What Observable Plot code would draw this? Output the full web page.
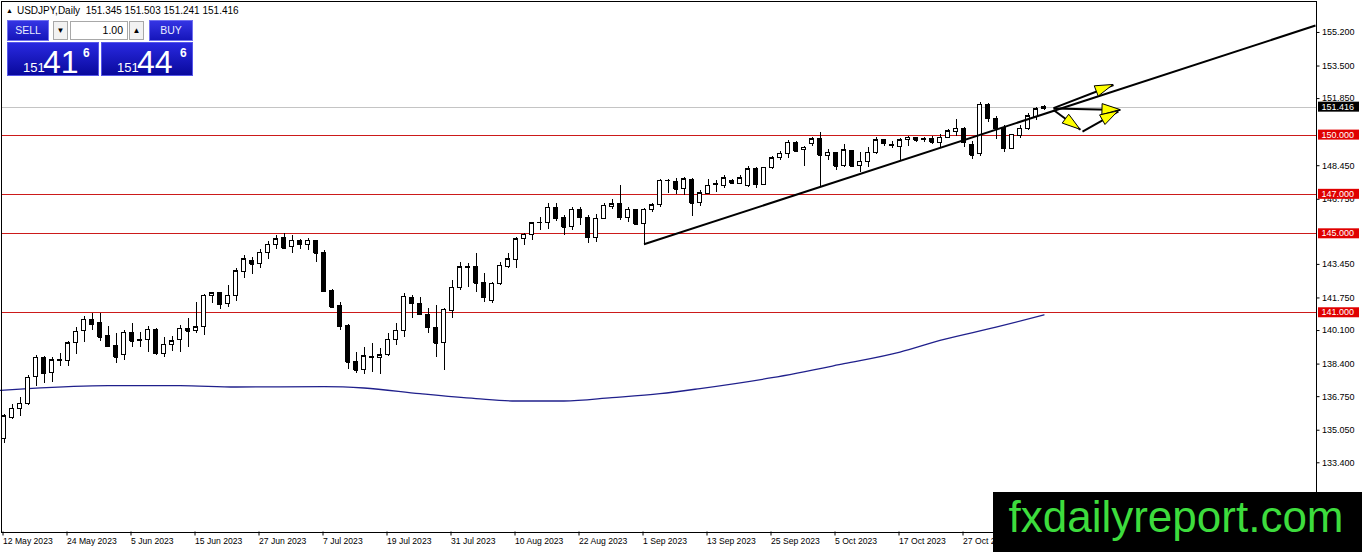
<!DOCTYPE html>
<html>
<head>
<meta charset="utf-8">
<script src="https://cdn.jsdelivr.net/npm/d3@7"></script>
<script src="https://cdn.jsdelivr.net/npm/@observablehq/plot@0.6"></script>
<style>
html,body{margin:0;padding:0;background:#fff;}
#wrap{position:relative;width:1362px;height:552px;overflow:hidden;font-family:"Liberation Sans",Arial,sans-serif;}
#wrap svg{position:absolute;left:0;top:0;}
.ov{position:absolute;}
#hdr{left:6px;top:5px;font-size:10px;color:#000;white-space:nowrap;line-height:12px;}
#hdr .tri{font-size:7px;vertical-align:1px;margin-right:4px;}
.btn{background:linear-gradient(#3636e6,#1414b8);color:#e8ecff;font-size:10.5px;text-align:center;line-height:21px;box-shadow:inset 0 0 0 1px #7070f0;}
.spin{background:#f2f2f2;border:1px solid #a8a8a8;box-sizing:border-box;font-size:8px;text-align:center;line-height:17px;color:#000;}
.lot{background:#fff;border:1px solid #a8a8a8;box-sizing:border-box;font-size:10.5px;text-align:right;padding-right:4px;line-height:17px;color:#000;}
.price{background:linear-gradient(#2a2ae2,#08089a);box-shadow:inset 0 0 0 1px #5656ea;color:#fff;}
.price span{position:absolute;white-space:nowrap;}
.s{font-size:13px;line-height:13px;top:18.7px;left:16px;}
.b{font-size:32px;line-height:32px;top:3.9px;left:36px;}
.p{font-size:12px;line-height:12px;font-weight:bold;top:4.5px;}
#wm{left:993px;top:492px;width:369px;height:60px;background:#000;}
#wm span{position:absolute;left:15.5px;top:2.5px;font-size:44px;line-height:44px;color:#3ddc3d;white-space:nowrap;}
</style>
</head>
<body>
<div id="wrap">
  <div id="chart"></div>
  <div class="ov" id="hdr"><span class="tri">▲</span>USDJPY,Daily&nbsp; 151.345 151.503 151.241 151.416</div>
  <div class="ov btn" style="left:7px;top:20px;width:42px;height:21px;">SELL</div>
  <div class="ov spin" style="left:53px;top:21px;width:15px;height:19px;">▼</div>
  <div class="ov lot" style="left:70px;top:21px;width:58px;height:19px;">1.00</div>
  <div class="ov spin" style="left:129px;top:21px;width:15px;height:19px;">▲</div>
  <div class="ov btn" style="left:149px;top:20px;width:44px;height:21px;">BUY</div>
  <div class="ov price" style="left:7px;top:42px;width:92px;height:34px;"><span class="s">151</span><span class="b">41</span><span class="p" style="left:76px;">6</span></div>
  <div class="ov price" style="left:101px;top:42px;width:92px;height:34px;"><span class="s">151</span><span class="b">44</span><span class="p" style="left:79px;">6</span></div>
  <div class="ov" id="wm"><span>fxdailyreport.com</span></div>
</div>
<script>
// ---- Data (daily USDJPY bars, index 0 = 12 May 2023) ----
const open = [134.60,135.69,136.15,136.36,137.74,138.72,137.94,138.57,138.55,139.46,
140.07,140.61,140.47,139.80,139.34,138.84,139.98,139.58,139.63,140.14,
138.93,139.39,139.60,140.19,140.07,140.27,141.87,141.99,141.45,141.87,
143.05,143.64,143.47,144.03,144.45,144.78,144.34,144.65,144.45,144.65,
144.03,142.12,141.32,140.35,138.50,138.12,138.77,138.72,138.84,139.63,
140.10,141.75,141.45,140.89,140.24,139.46,141.11,142.26,143.28,143.30,
142.49,141.58,142.46,143.34,143.67,144.73,144.93,145.53,145.54,146.33,
145.82,145.37,146.21,145.82,144.81,145.77,146.38,146.50,145.82,146.21,
145.49,146.21,146.45,147.66,147.63,147.26,147.73,146.55,147.04,147.49,
147.43,147.68,147.54,147.43,148.27,147.48,148.35,148.82,149.02,149.61,
149.23,149.56,149.78,148.94,149.08,148.43,149.19,148.43,148.65,149.11,
149.73,149.50,149.41,149.75,149.86,149.80,149.81,149.61,149.86,150.15,
150.32,149.48,149.02,151.55,150.82,150.37,149.28,149.98,150.29,150.92,
151.345];
const high = [135.85,136.36,136.70,137.83,138.84,138.79,138.75,138.93,139.55,140.27,
140.81,140.97,140.97,140.30,139.97,140.10,140.47,140.02,140.30,140.19,
139.73,139.80,140.35,140.69,141.53,141.92,142.04,142.04,142.37,143.22,
143.89,143.81,144.18,144.61,144.90,145.01,144.90,144.73,144.78,144.65,
144.14,142.17,141.53,140.40,139.01,139.23,139.43,139.18,139.93,140.44,
141.99,141.87,141.75,141.20,141.37,141.20,142.63,143.55,143.50,143.98,
142.97,142.54,143.55,143.98,144.81,145.01,145.57,145.82,146.55,146.55,
145.91,146.33,146.33,145.91,145.99,146.55,146.75,147.43,146.33,146.25,
146.28,146.55,147.76,147.76,147.79,147.84,147.79,147.17,147.76,147.71,
147.93,147.76,147.93,148.43,148.38,148.38,148.94,149.19,149.73,149.66,
149.44,149.90,150.12,149.28,149.11,149.50,149.23,149.11,149.36,149.86,
149.78,149.70,149.81,149.95,149.90,149.90,149.91,150.03,150.29,150.79,
150.37,149.70,151.63,151.60,150.96,150.49,150.05,150.49,151.10,151.38,
151.503];
const low = [134.40,135.60,135.72,136.31,137.27,137.44,137.49,138.28,138.28,138.89,
139.51,140.10,139.56,139.26,138.42,138.59,139.26,139.23,139.01,138.84,
138.72,139.06,139.01,139.26,139.93,139.85,141.45,141.15,141.25,141.58,
142.76,142.93,143.22,143.72,144.23,144.18,143.98,144.18,144.14,143.55,
142.04,141.25,140.10,138.12,137.91,137.87,137.99,137.87,138.79,139.34,
139.76,140.69,140.86,139.93,138.75,138.08,140.69,142.12,142.26,142.04,
141.53,141.48,142.37,143.22,143.22,144.39,144.65,145.15,145.24,145.61,
144.90,145.15,145.40,144.53,144.56,145.71,146.21,145.66,145.57,145.40,
144.43,146.08,146.33,147.06,147.01,146.96,145.87,146.38,147.01,147.09,
147.31,147.51,147.48,147.37,147.31,147.43,148.27,148.69,148.82,149.11,
148.43,149.44,147.34,148.72,148.22,148.35,148.35,148.10,148.35,149.02,
149.44,149.31,148.69,149.44,149.61,149.61,149.53,149.31,149.81,149.95,
149.36,148.77,148.94,150.62,149.78,149.14,149.26,149.81,150.25,150.76,
151.241];
const close = [135.75,136.15,136.40,137.71,138.72,137.91,138.59,138.61,139.46,140.04,
140.64,140.40,139.76,139.29,138.75,139.98,139.56,139.61,140.14,138.93,
139.38,139.56,140.19,140.07,140.27,141.87,141.99,141.41,141.87,143.10,
143.72,143.47,144.03,144.45,144.73,144.28,144.65,144.45,144.65,144.01,
142.07,141.28,140.30,138.50,138.08,138.79,138.73,138.84,139.63,140.10,
141.82,141.45,140.91,140.24,139.46,141.15,142.26,143.30,143.32,142.49,
141.75,142.46,143.38,143.72,144.73,144.95,145.54,145.56,146.33,145.77,
145.32,146.21,145.82,144.81,145.77,146.41,146.50,145.82,146.21,145.49,
146.21,146.45,147.68,147.70,147.26,147.76,146.55,147.06,147.43,147.51,
147.81,147.56,147.81,148.27,147.48,148.35,148.82,149.06,149.61,149.19,
149.36,149.78,148.99,149.11,148.43,149.23,148.43,148.65,149.11,149.73,
149.56,149.47,149.75,149.86,149.75,149.77,149.65,149.86,150.20,150.32,
149.61,148.98,151.55,150.82,150.32,149.31,150.03,150.32,150.96,151.30,
151.416];

// moving average (blue curve), read at sampled bar indices
const maIdx = [-0.4375, 3, 13, 22, 29, 40, 45, 52, 59, 64, 70, 76, 82, 87, 96, 105, 112, 117, 124, 130];
const maVal = [137.07, 137.16, 137.31, 137.31, 137.24, 137.26, 137.19, 136.90, 136.65, 136.53, 136.53, 136.70, 136.90, 137.16, 137.71, 138.42, 139.01, 139.60, 140.27, 140.89];

// horizontal levels, bid line
const levels = [150, 147, 145, 141];
const bid = 151.416;

// trend line (from the 1 Sep low to the right edge)
const trendIdx = [80, 163.9375];
const trendVal = [144.47, 155.55];

// annotation arrows
const arrowX1 = [131.19, 131.19, 131.19, 134.81];
const arrowY1 = [151.37, 151.35, 151.27, 150.18];
const arrowX2 = [138.69, 139.56, 134.56, 139.31];
const arrowY2 = [152.54, 151.27, 150.27, 151.20];

// axes (labels that the level boxes hide completely are left out)
const priceTicks = [155.2, 153.5, 151.85, 148.45, 146.75, 143.45, 141.75, 140.1, 138.4, 136.75, 135.05, 133.4];
const tickIdx = [0, 8, 16, 24, 32, 40, 48, 56, 64, 72, 80, 88, 96, 104, 112, 120];
const tickLabels = ["12 May 2023","24 May 2023","5 Jun 2023","15 Jun 2023","27 Jun 2023","7 Jul 2023","19 Jul 2023","31 Jul 2023","10 Aug 2023","22 Aug 2023","1 Sep 2023","13 Sep 2023","25 Sep 2023","5 Oct 2023","17 Oct 2023","27 Oct 2023"];

// ---- build tables ----
const bars = open.map((o, i) => ({i, o, h: high[i], l: low[i], c: close[i]}));
const maPts = maIdx.map((i, k) => ({i, v: maVal[k]}));
const trend = [{x1: trendIdx[0], y1: trendVal[0], x2: trendIdx[1], y2: trendVal[1]}];
const arrows = arrowX1.map((x1, k) => ({x1, y1: arrowY1[k], x2: arrowX2[k], y2: arrowY2[k]}));
const labelMap = new Map(tickIdx.map((d, k) => [d, tickLabels[k]]));
const fmt = d3.format(".3f");

const chart = Plot.plot({
  width: 1362,
  height: 552,
  marginLeft: 0.5,
  marginTop: 0.5,
  marginRight: 46.5,
  marginBottom: 20.5,
  style: {fontFamily: '"Liberation Sans", Arial, sans-serif', fontSize: "9px", background: "#fff", color: "#000"},
  x: {domain: [-0.4375, 163.9375], range: [0, 1315]},
  y: {domain: [129.894, 156.819], range: [531.5, 0]},
  color: {type: "identity"},
  marks: [
    Plot.ruleY([bid], {stroke: "#c4c4c4", shapeRendering: "crispEdges"}),
    Plot.ruleY(levels, {stroke: "#cc1a1a", shapeRendering: "crispEdges"}),
    Plot.line(maPts, {x: "i", y: "v", stroke: "#20208c", strokeWidth: 1.3, curve: "monotone-x"}),
    Plot.ruleX(bars, {x: "i", y1: "l", y2: "h", stroke: "#000", shapeRendering: "crispEdges"}),
    Plot.rect(bars, {
      x1: d => d.i - 0.25, x2: d => d.i + 0.25,
      y1: d => Math.min(d.o, d.c), y2: d => Math.max(d.o, d.c),
      fill: d => d.c >= d.o ? "#fff" : "#000", stroke: "#000", shapeRendering: "crispEdges"
    }),
    Plot.ruleY(bars, {y: "c", x1: d => d.i - 0.25, x2: d => d.i + 0.25, stroke: "#000", shapeRendering: "crispEdges"}),
    Plot.link(trend, {x1: "x1", y1: "y1", x2: "x2", y2: "y2", stroke: "#000", strokeWidth: 2}),
    Plot.link(arrows, {x1: "x1", y1: "y1", x2: "x2", y2: "y2", stroke: "#000", strokeWidth: 2}),
    Plot.frame({stroke: "#000", shapeRendering: "crispEdges"}),
    Plot.axisY(priceTicks, {anchor: "right", tickSize: 3, tickPadding: 3, tickFormat: fmt, label: null}),
    Plot.axisX(tickIdx, {anchor: "bottom", tickSize: 4, tickPadding: 2, tickFormat: d => labelMap.get(d), textAnchor: "start", dx: -1, fontSize: 8.6, label: null})
  ]
});

document.getElementById("chart").appendChild(chart);

// scale functions from the plot
const sx = chart.scale("x"), sy = chart.scale("y");
const fx = sx.apply ? v => sx.apply(v) : d3.scaleLinear(sx.domain, sx.range);
const fy = sy.apply ? v => sy.apply(v) : d3.scaleLinear(sy.domain, sy.range);

const svg = d3.select(chart);
const g = svg.append("g").attr("text-anchor", "start");

// yellow arrowheads
arrows.forEach(a => {
  const x1 = fx(a.x1), y1 = fy(a.y1), x2 = fx(a.x2), y2 = fy(a.y2);
  const dx = x2 - x1, dy = y2 - y1, len = Math.hypot(dx, dy);
  const ux = dx / len, uy = dy / len;
  const L = 18, w = 5.5;
  const bx = x2 - ux * L, by = y2 - uy * L;
  const pts = [[x2, y2], [bx - uy * w, by + ux * w], [bx + uy * w, by - ux * w]];
  g.append("polygon").attr("points", pts.map(p => p.join(",")).join(" "))
    .attr("fill", "#ffff00").attr("stroke", "#000").attr("stroke-width", 1);
});

// price label boxes on the right scale
const boxes = levels.map(v => ({v, fill: "#e00000"})).concat([{v: bid, fill: "#000"}]);
boxes.forEach(b => {
  const y = fy(b.v);
  g.append("rect").attr("x", 1318).attr("y", y - 5).attr("width", 41).attr("height", 10).attr("fill", b.fill);
  g.append("text").attr("x", 1321.5).attr("y", y).attr("dy", "0.35em").attr("text-anchor", "start")
    .attr("fill", "#fff").attr("font-size", 9).text(fmt(b.v));
});
</script>
</body>
</html>
